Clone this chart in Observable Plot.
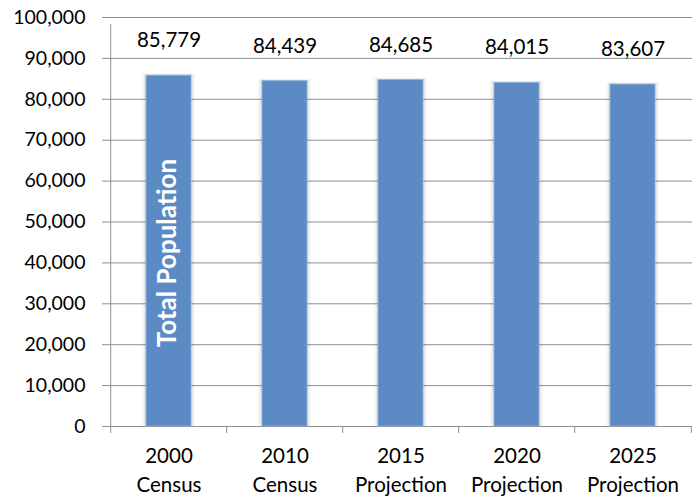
<!DOCTYPE html>
<html>
<head>
<meta charset="utf-8">
<script src="https://cdn.jsdelivr.net/npm/d3@7"></script>
<script src="https://cdn.jsdelivr.net/npm/@observablehq/plot@0.6"></script>
<style>
  html, body { margin: 0; padding: 0; background: #fff; }
  #chart svg { display: block; font-family: Lato, "Open Sans", sans-serif; }
</style>
</head>
<body>
<div id="chart"></div>
<script>
const categories = ["2000\nCensus", "2010\nCensus", "2015\nProjection", "2020\nProjection", "2025\nProjection"];
const population = [85779, 84439, 84685, 84015, 83607];
const yTicks = [0, 10000, 20000, 30000, 40000, 50000, 60000, 70000, 80000, 90000, 100000];
const barLabel = "Total Population";
const barLabelY = 42400;

const data = categories.map((c, i) => ({category: c, value: population[i]}));

const W = 699, H = 496;
const mL = 109, mR = 7, mT = 17, mB = 70;
const step = (W - mL - mR) / categories.length;
const barColor = "#5b8ac4";
const gridColor = "#8f8f8f";

const chart = Plot.plot({
  width: W,
  height: H,
  marginLeft: mL,
  marginRight: mR,
  marginTop: mT,
  marginBottom: mB,
  style: {fontFamily: "Lato, 'Open Sans', sans-serif", color: "#000", background: "#fff"},
  x: {domain: categories, paddingInner: 0.614, paddingOuter: 0.307, label: null},
  y: {domain: [0, 100000], label: null},
  marks: [
    Plot.ruleY(yTicks, {stroke: gridColor, strokeWidth: 1}),
    // soft shadow around bars
    Plot.barY(data, {x: "category", y: "value", fill: "#000", fillOpacity: 0.04, insetLeft: -4, insetRight: -4, insetTop: -2}),
    Plot.barY(data, {x: "category", y: "value", fill: "#000", fillOpacity: 0.06, insetLeft: -2, insetRight: -2, insetTop: -1}),
    Plot.barY(data, {x: "category", y: "value", fill: barColor, stroke: "#8fb0da", strokeWidth: 0.8}),
    Plot.text(data, {x: "category", y: "value", text: d => d3.format(",")(d.value), dy: -35, fontSize: 20.5, fill: "#000"}),
    Plot.text([barLabel], {x: () => categories[0], y: () => barLabelY, text: d => d, rotate: -90, dx: -1, fill: "#fff", fontWeight: "bold", fontSize: 26}),
    // vertical axis line
    Plot.ruleX([categories[0]], {x: d => d, y1: 0, y2: 100000, dx: -step / 2, stroke: gridColor, insetBottom: -7}),
    // category boundary ticks below the baseline
    Plot.ruleX(categories, {x: d => d, y1: 0, y2: 0, dx: -step / 2, stroke: gridColor, insetBottom: -7}),
    Plot.ruleX([categories[categories.length - 1]], {x: d => d, y1: 0, y2: 0, dx: step / 2, stroke: gridColor, insetBottom: -7}),
    Plot.axisY({ticks: yTicks, tickFormat: d3.format(","), tickSize: 7, tickPadding: 17, fontSize: 19.5, stroke: gridColor}),
    Plot.axisX({tickSize: 0, tickPadding: 15, fontSize: 20.5, lineHeight: 1.45})
  ]
});

document.getElementById("chart").appendChild(chart);
</script>
</body>
</html>
